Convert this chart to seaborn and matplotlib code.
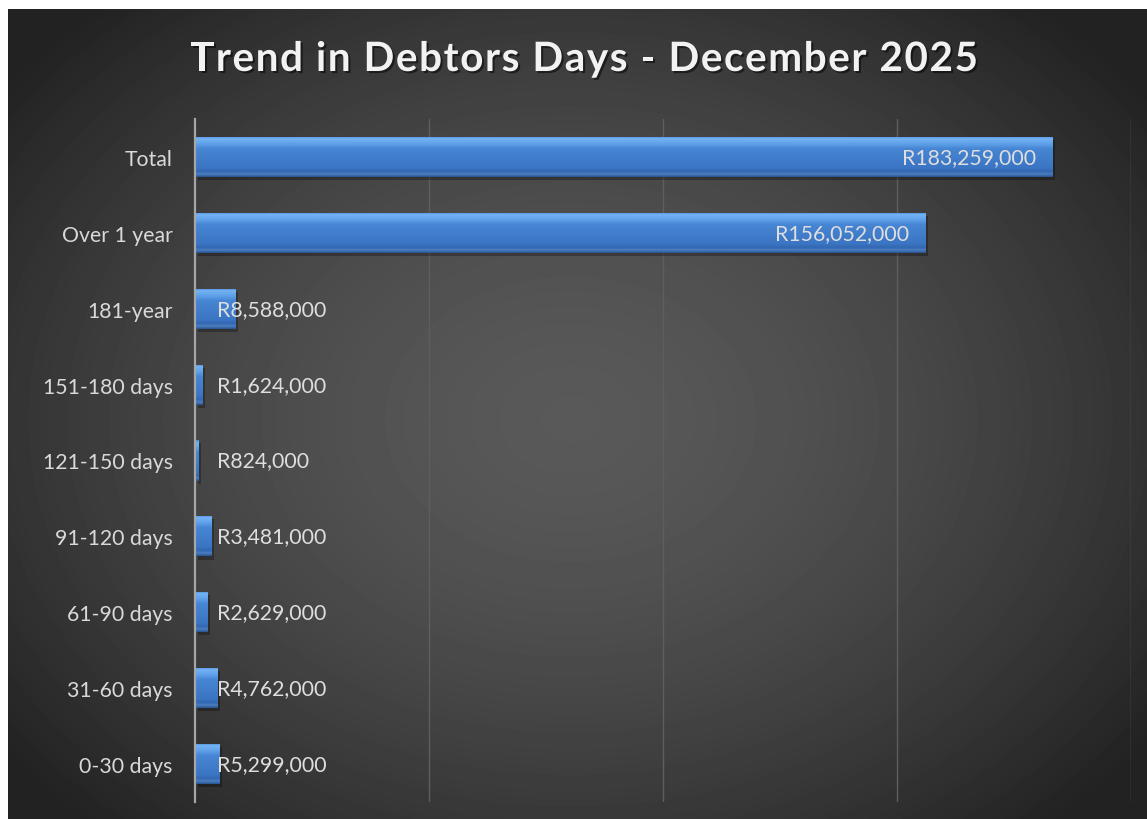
import numpy as np
import pandas as pd
import seaborn as sns
import matplotlib
matplotlib.use("Agg")
import matplotlib.pyplot as plt
from matplotlib import patheffects as pe
from matplotlib.colors import LinearSegmentedColormap
from matplotlib.font_manager import FontProperties, findfont, get_font
from matplotlib.textpath import TextPath
from matplotlib.patches import PathPatch
from matplotlib.transforms import Affine2D

# ---- data -------------------------------------------------------------
categories = ["Total", "Over 1 year", "181-year", "151-180 days", "121-150 days",
              "91-120 days", "61-90 days", "31-60 days", "0-30 days"]
amounts = [183259000, 156052000, 8588000, 1624000, 824000,
           3481000, 2629000, 4762000, 5299000]
title_text = "Trend in Debtors Days - December 2025"
x_max = 200_000_000
grid_step = 50_000_000

# ---- figure -----------------------------------------------------------
W, H, DPI = 1147, 820, 100
sns.set_theme(style="white")
plt.rcParams["font.family"] = ["Lato", "DejaVu Sans"]

fig = plt.figure(figsize=(W / DPI, H / DPI), dpi=DPI, facecolor="white")

# dark radial backdrop (runs a few pixels past the right and bottom edges)
ext = 6
bw, bh = W - 8 + ext, H - 10 + ext
bg = fig.add_axes([8 / W, -ext / H, bw / W, bh / H], zorder=-10)
yy, xx = np.mgrid[0:bh, 0:bw]
r = np.hypot(xx - 562, (yy - 410) * 1.3)
shade = np.clip(89 - 53 * (r / 700) ** 1.6, 34, 95) / 255.0
bg.imshow(shade, cmap="gray", vmin=0, vmax=1, aspect="auto", interpolation="bilinear")
bg.axis("off")

# plot area
ax = fig.add_axes([195 / W, 17 / H, 936 / W, 683 / H])
ax.patch.set_alpha(0)
df = pd.DataFrame({"category": categories, "amount": amounts})
sns.barplot(data=df, x="amount", y="category", orient="h", color="#3e7dcf",
            width=0.53, saturation=1, linewidth=0, ax=ax)

ax.set_xlim(0, x_max)
ylim = ax.get_ylim()
ax.set_xticks(np.arange(grid_step, x_max + 1, grid_step))
ax.grid(axis="x", color="#5e5e5e", linewidth=1.0)
ax.grid(axis="y", visible=False)
ax.set_axisbelow(True)
ax.tick_params(axis="x", length=0, labelbottom=False)
ax.tick_params(axis="y", length=0, pad=16, labelcolor="#d9d9d9", labelsize=15.3)
ax.set_xlabel("")
ax.set_ylabel("")
for side in ["top", "right", "bottom"]:
    ax.spines[side].set_visible(False)
ax.spines["left"].set_color("#a6a6a6")
ax.spines["left"].set_linewidth(1.6)
ax.spines["left"].set_zorder(5)

# bevelled blue fill for every bar
bar_cmap = LinearSegmentedColormap.from_list("bevel", [
    (0.00, "#4f90dc"), (0.06, "#74b2f3"), (0.20, "#5c9de7"), (0.30, "#4786d4"),
    (0.78, "#3b75c3"), (0.88, "#3367b1"), (0.93, "#4d80c2"), (1.00, "#2a5593")])
grad = np.linspace(0, 1, 64).reshape(-1, 1)
for patch in list(ax.patches):
    x0, y0 = patch.get_x(), patch.get_y()
    w, h = patch.get_width(), patch.get_height()
    patch.set_path_effects([pe.SimplePatchShadow(offset=(1.8, -2.2), shadow_rgbFace="black",
                                                 alpha=0.28), pe.Normal()])
    im = ax.imshow(grad, cmap=bar_cmap, vmin=0, vmax=1, aspect="auto",
                   extent=(x0, x0 + w, y0 + h, y0), origin="upper",
                   interpolation="bilinear", zorder=patch.get_zorder() + 0.1)
    im.set_clip_path(patch)
ax.set_xlim(0, x_max)
ax.set_ylim(ylim)

# value labels
big = 0.3 * max(amounts)
for i, v in enumerate(amounts):
    label = f"R{v:,}"
    if v > big:
        ax.annotate(label, xy=(v, i), xytext=(-12, 0), textcoords="offset points",
                    ha="right", va="center", color="#dedede", fontsize=15.3, zorder=6)
    else:
        ax.annotate(label, xy=(0, i), xytext=(15.5, 0), textcoords="offset points",
                    ha="left", va="center", color="#dedede", fontsize=15.3, zorder=6)

# letter-spaced title drawn glyph by glyph
tfp = FontProperties(family="Lato", weight="bold")
font = get_font(findfont(tfp))
S = 40.5
font.set_size(S, 72)
adv = [font.load_char(ord(c)).linearHoriAdvance / 65536 for c in title_text]
target_w = 788
track = (target_w - sum(adv)) / (len(title_text) - 1)
if track < 0.03 * S:
    scale = target_w / (sum(adv) + 0.03 * S * (len(title_text) - 1))
    S *= scale
    adv = [a * scale for a in adv]
    track = 0.03 * S
x_left = 584 - target_w / 2
baseline = H - 72
pen = x_left
for c, a in zip(title_text, adv):
    if c != " ":
        path = TextPath((0, 0), c, size=S, prop=tfp)
        glyph = PathPatch(path, transform=Affine2D().translate(pen, baseline),
                          facecolor="#f2f2f2", edgecolor="none", lw=0)
        glyph.set_path_effects([pe.SimplePatchShadow(offset=(1.5, -1.5), shadow_rgbFace="black",
                                                     alpha=0.5), pe.Normal()])
        fig.add_artist(glyph)
    pen += a + track

fig.savefig("out.png", dpi=DPI, facecolor="white")
